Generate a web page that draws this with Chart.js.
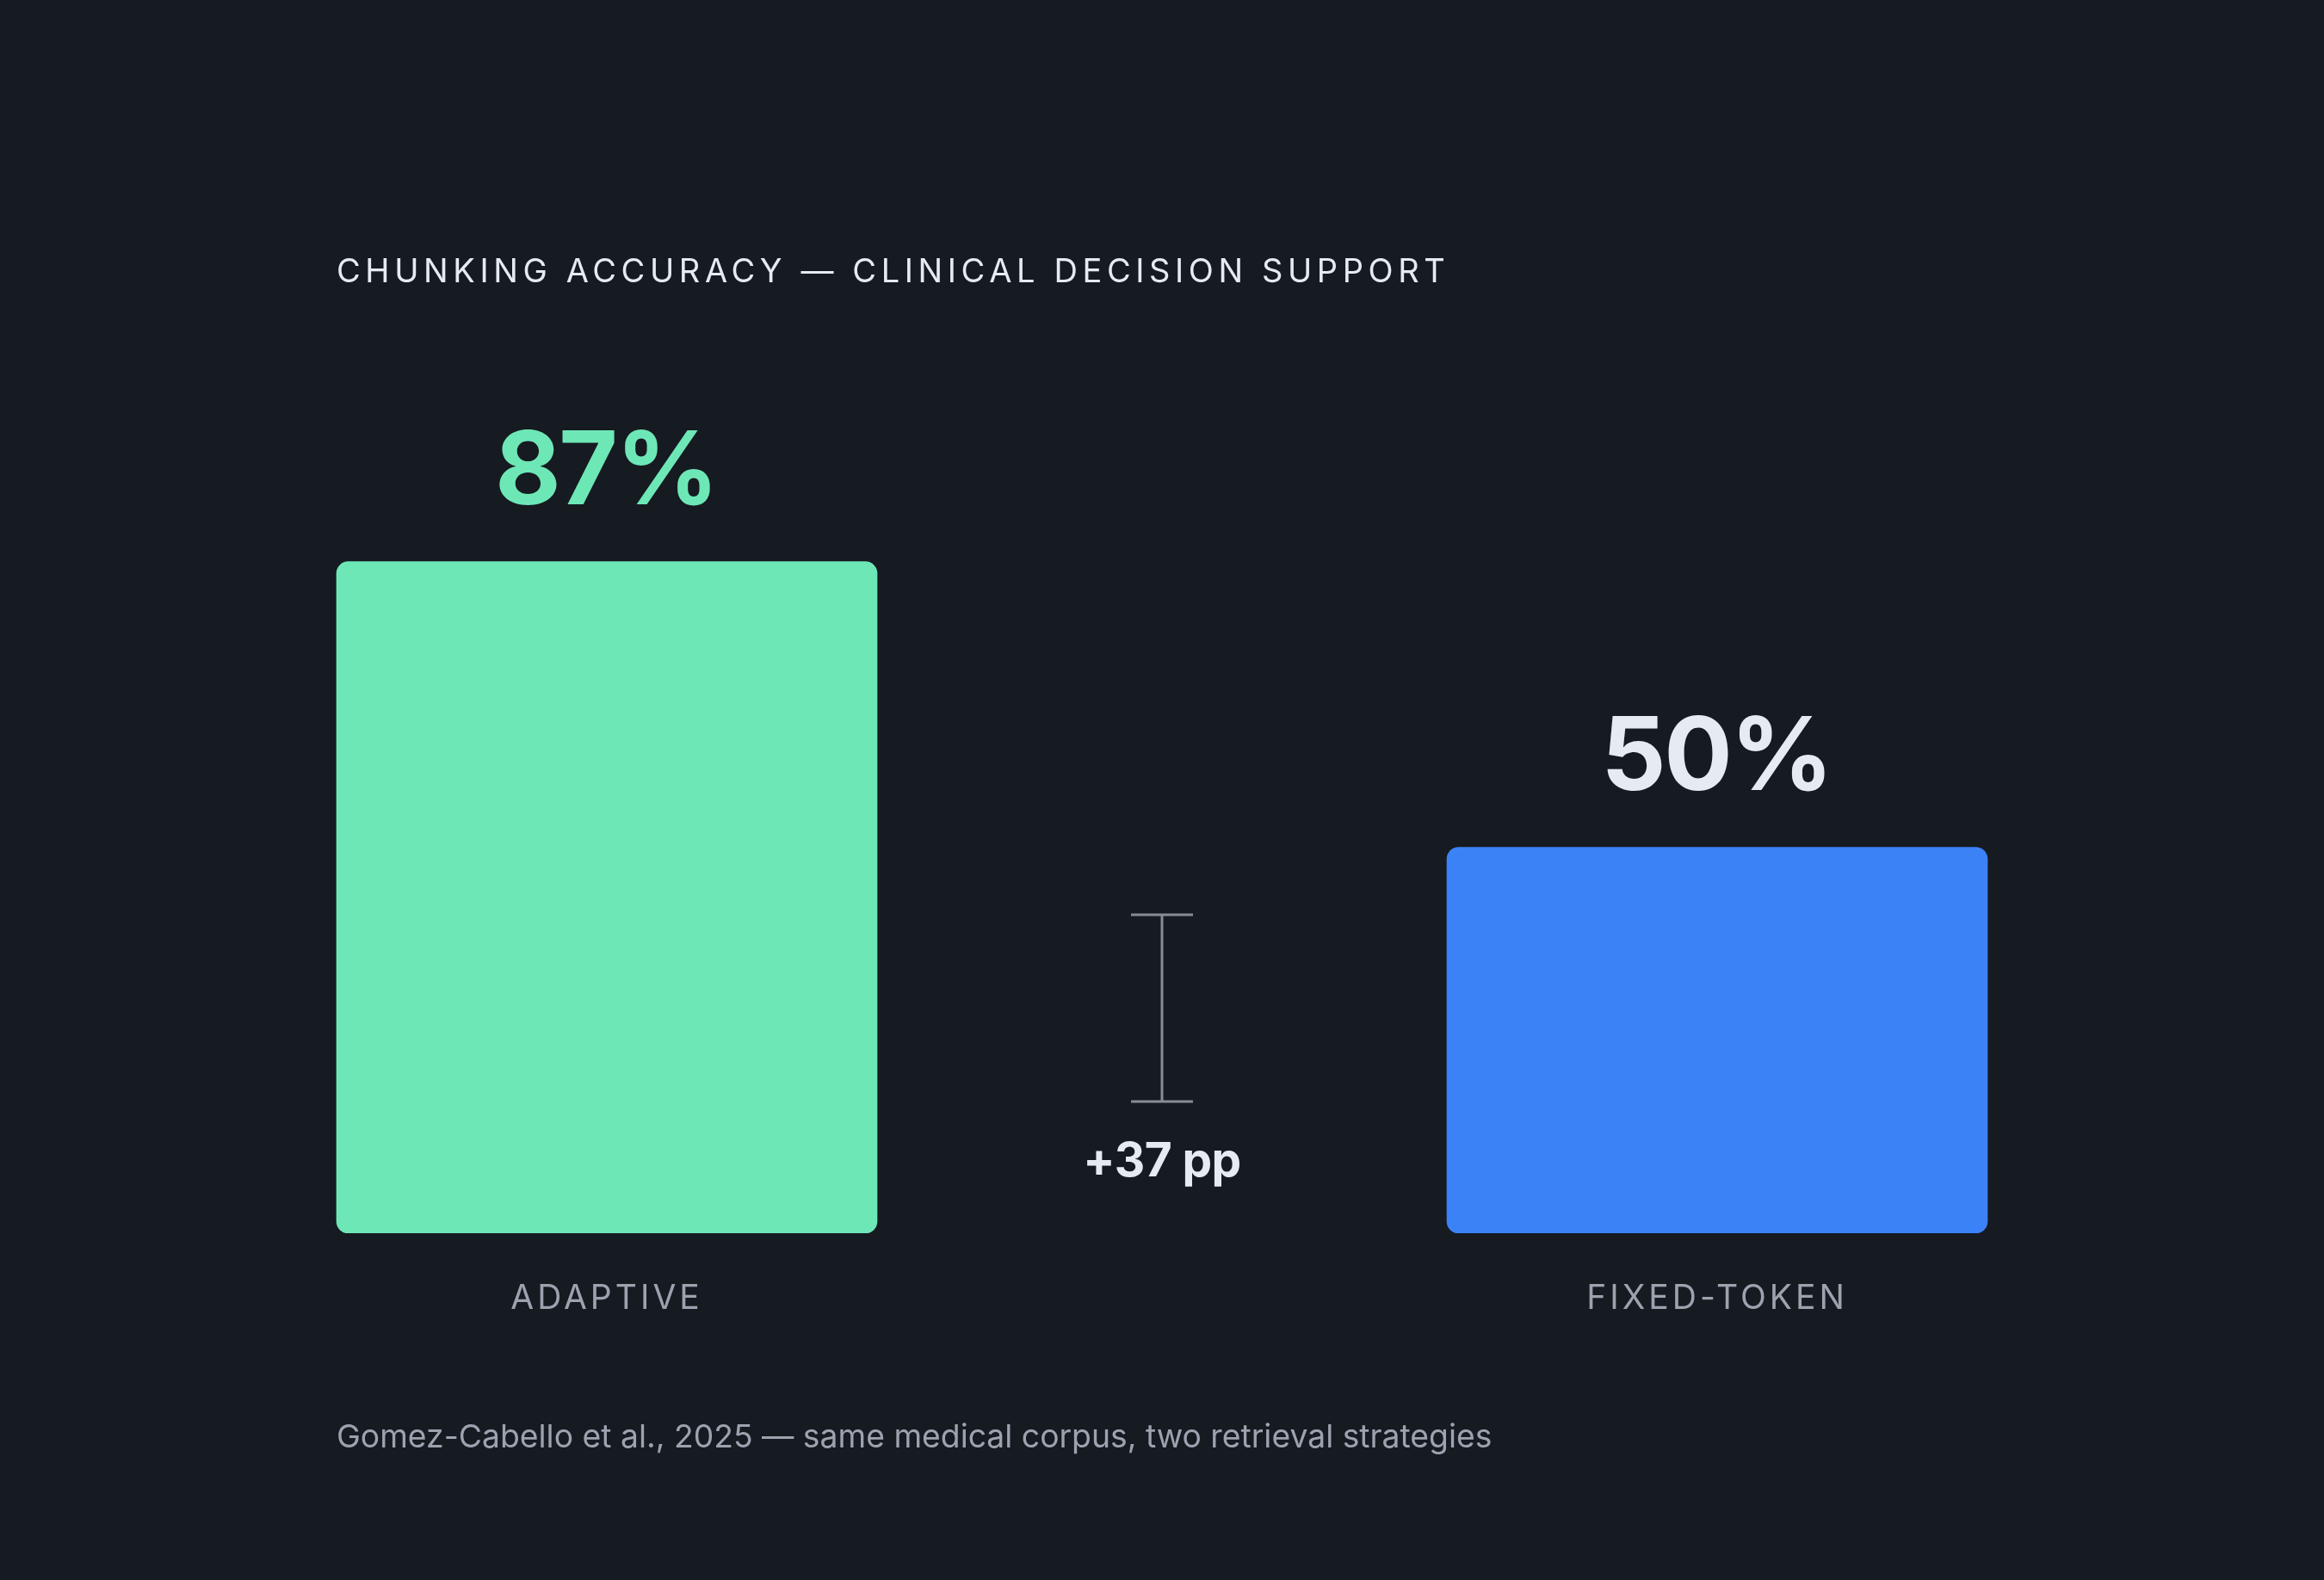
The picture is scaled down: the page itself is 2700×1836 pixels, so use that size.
<!DOCTYPE html>
<html>
<head>
<meta charset="utf-8">
<script src="https://cdn.jsdelivr.net/npm/chart.js@4.4.1/dist/chart.umd.min.js"></script>
<style>
  html, body { margin: 0; padding: 0; background: #161a21; }
  canvas { display: block; }
</style>
</head>
<body>
<canvas id="c" width="2700" height="1836" style="width:2700px;height:1836px"></canvas>
<script>
// ---- data ----
const categories = ['ADAPTIVE', 'FIXED-TOKEN'];
const accuracy = [87, 50];
const valueLabels = ['87%', '50%'];
const gapLabel = '+37 pp';
const titleText = 'CHUNKING ACCURACY — CLINICAL DECISION SUPPORT';
const footerText = 'Gomez-Cabello et al., 2025 — same medical corpus, two retrieval strategies';

const barColors = ['#6ee7b7', '#3b82f6'];
const valueColors = ['#6ee7b7', '#e6ebf3'];
const BG = '#161a21';

const overlay = {
  id: 'overlay',
  beforeDraw(chart) {
    const ctx = chart.ctx;
    ctx.save();
    ctx.fillStyle = BG;
    ctx.fillRect(0, 0, chart.width, chart.height);
    ctx.restore();
  },
  afterDatasetsDraw(chart) {
    const ctx = chart.ctx;
    const area = chart.chartArea;
    const meta = chart.getDatasetMeta(0);
    const left = meta.data[0].x - meta.data[0].width / 2;
    ctx.save();

    // title
    ctx.textAlign = 'left';
    ctx.textBaseline = 'alphabetic';
    ctx.fillStyle = '#e6ebf3';
    ctx.font = '400 38px Inter';
    ctx.letterSpacing = '5.6px';
    ctx.fillText(titleText, left, 328);

    // footer
    ctx.fillStyle = '#9ca3af';
    ctx.font = '400 37.3px Inter';
    ctx.letterSpacing = '0px';
    ctx.fillText(footerText, left, 1682);

    // value labels & category labels
    ctx.textAlign = 'center';
    meta.data.forEach((bar, i) => {
      ctx.font = '700 118px Inter';
      ctx.letterSpacing = '-2.4px';
      ctx.fillStyle = valueColors[i];
      ctx.fillText(valueLabels[i], bar.x - 1, bar.y - 67);

      ctx.font = '400 39px Inter';
      ctx.letterSpacing = '4px';
      ctx.fillStyle = '#9ca3af';
      ctx.fillText(categories[i], bar.x, area.bottom + 88);
    });

    // gap bracket
    const cx = (meta.data[0].x + meta.data[1].x) / 2;
    const top = area.bottom - 370;
    const bot = area.bottom - 153;
    ctx.strokeStyle = '#878c95';
    ctx.lineWidth = 3;
    ctx.beginPath();
    ctx.moveTo(cx, top); ctx.lineTo(cx, bot);
    ctx.moveTo(cx - 36, top); ctx.lineTo(cx + 36, top);
    ctx.moveTo(cx - 36, bot); ctx.lineTo(cx + 36, bot);
    ctx.stroke();

    ctx.font = '700 55px Inter';
    ctx.letterSpacing = '-0.6px';
    ctx.fillStyle = '#e6ebf3';
    ctx.fillText(gapLabel, cx, area.bottom - 66);
    ctx.restore();
  }
};

new Chart(document.getElementById('c'), {
  type: 'bar',
  data: {
    labels: categories,
    datasets: [{
      data: accuracy,
      backgroundColor: barColors,
      borderRadius: 14,
      borderSkipped: false,
      barThickness: 628
    }]
  },
  options: {
    responsive: false,
    animation: false,
    devicePixelRatio: 1,
    layout: { padding: { left: 60, right: 60, top: 536, bottom: 403 } },
    plugins: { legend: { display: false }, tooltip: { enabled: false }, title: { display: false } },
    scales: {
      x: { display: false },
      y: { display: false, min: 0, max: 100 }
    }
  },
  plugins: [overlay]
});
</script>
</body>
</html>
